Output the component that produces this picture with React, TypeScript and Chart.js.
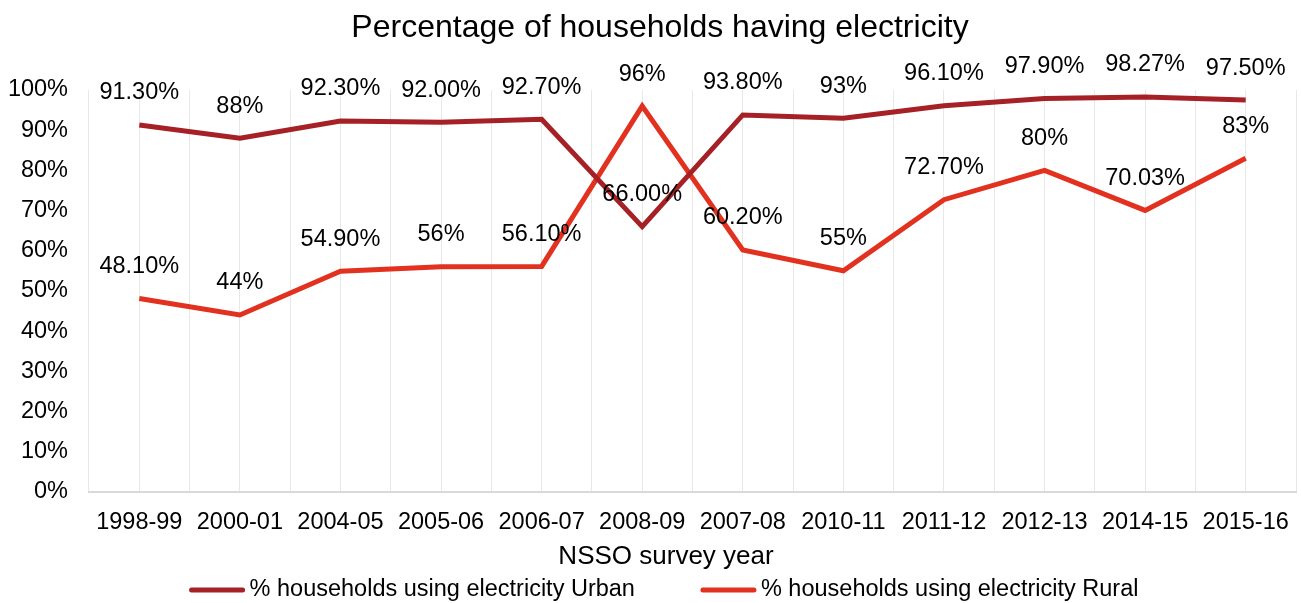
import React, { useEffect, useRef } from "react";
import { Chart, registerables } from "chart.js";

Chart.register(...registerables);

const categories = ["1998-99", "2000-01", "2004-05", "2005-06", "2006-07", "2008-09", "2007-08", "2010-11", "2011-12", "2012-13", "2014-15", "2015-16"];
const urbanValues = [91.3, 88, 92.3, 92.0, 92.7, 66.0, 93.8, 93, 96.1, 97.9, 98.27, 97.5];
const ruralValues = [48.1, 44, 54.9, 56, 56.1, 96, 60.2, 55, 72.7, 80, 70.03, 83];
const urbanLabels = ["91.30%", "88%", "92.30%", "92.00%", "92.70%", "66.00%", "93.80%", "93%", "96.10%", "97.90%", "98.27%", "97.50%"];
const ruralLabels = ["48.10%", "44%", "54.90%", "56%", "56.10%", "96%", "60.20%", "55%", "72.70%", "80%", "70.03%", "83%"];
const seriesNames = ["% households using electricity Urban", "% households using electricity Rural"];
const titleText = "Percentage of households having electricity";
const xTitleText = "NSSO survey year";

const FONT = "'Liberation Sans', Arial, sans-serif";
const FS = 23.5;
const URBAN_COLOR = "#A52126";
const RURAL_COLOR = "#E2311F";

export default function App() {
  const ref = useRef<HTMLCanvasElement | null>(null);

  useEffect(() => {
    if (!ref.current) return;
    const labelSets = [urbanLabels, ruralLabels];

    const customPlugin = {
      id: "custom",
      afterDraw(chart: any) {
        const ctx = chart.ctx;
        ctx.save();
        ctx.fillStyle = "#000";
        ctx.textAlign = "center";
        ctx.textBaseline = "middle";
        // title
        ctx.font = `32px ${FONT}`;
        ctx.fillText(titleText, 660, 28);
        // data labels
        ctx.font = `${FS}px ${FONT}`;
        chart.data.datasets.forEach((ds: any, di: number) => {
          const meta = chart.getDatasetMeta(di);
          meta.data.forEach((pt: any, i: number) => {
            ctx.fillText(labelSets[di][i], pt.x, pt.y - 32);
          });
        });
        // x axis title
        ctx.font = `26px ${FONT}`;
        ctx.fillText(xTitleText, 666, 557);
        // legend
        ctx.font = `${FS}px ${FONT}`;
        ctx.textAlign = "left";
        const markW = 55;
        const gap = 5;
        const itemGap = 66;
        const widths = chart.data.datasets.map((ds: any) => markW + gap + ctx.measureText(ds.label).width);
        const total = widths.reduce((a: number, b: number) => a + b, 0) + itemGap * (widths.length - 1);
        let x = 664 - total / 2;
        const y = 590;
        chart.data.datasets.forEach((ds: any, di: number) => {
          ctx.strokeStyle = ds.borderColor;
          ctx.lineWidth = 5;
          ctx.lineCap = "round";
          ctx.beginPath();
          ctx.moveTo(x + 2, y);
          ctx.lineTo(x + markW - 2, y);
          ctx.stroke();
          ctx.fillStyle = "#000";
          ctx.fillText(ds.label, x + markW + gap, y);
          x += widths[di] + itemGap;
        });
        ctx.restore();
      },
    };

    const chart = new Chart(ref.current, {
      type: "line",
      data: {
        labels: categories,
        datasets: [
          {
            label: seriesNames[0],
            data: urbanValues,
            borderColor: URBAN_COLOR,
            backgroundColor: URBAN_COLOR,
            borderWidth: 5,
            pointRadius: 0,
            tension: 0,
            fill: false,
          },
          {
            label: seriesNames[1],
            data: ruralValues,
            borderColor: RURAL_COLOR,
            backgroundColor: RURAL_COLOR,
            borderWidth: 5,
            pointRadius: 0,
            tension: 0,
            fill: false,
          },
        ],
      },
      options: {
        animation: false,
        responsive: true,
        maintainAspectRatio: false,
        layout: { padding: { left: 0, right: 5, top: 90, bottom: 63 } },
        plugins: {
          legend: { display: false },
          tooltip: { enabled: false },
          title: { display: false },
        },
        scales: {
          x: {
            type: "category",
            offset: true,
            grid: {
              display: true,
              offset: true,
              color: "#e8e8e8",
              lineWidth: 1,
              drawTicks: true,
              tickLength: 14,
              tickColor: "rgba(0,0,0,0)",
            },
            border: { display: true, color: "#d9d9d9", width: 2 },
            ticks: { color: "#000", font: { family: FONT, size: FS }, padding: 3, maxRotation: 0, autoSkip: false },
          },
          x2: {
            type: "category",
            position: "bottom",
            labels: categories,
            offset: true,
            grid: { display: true, offset: false, color: "#e8e8e8", lineWidth: 1, drawTicks: false },
            border: { display: false },
            ticks: { display: false },
          },
          y: {
            min: 0,
            max: 100,
            grid: { display: false, drawTicks: false },
            border: { display: false },
            ticks: {
              stepSize: 10,
              color: "#000",
              font: { family: FONT, size: FS },
              padding: 21,
              callback: (v: any) => v + "%",
            },
            afterFit: (scale: any) => {
              scale.width = 89;
            },
          },
        },
      },
      plugins: [customPlugin],
    });
    return () => chart.destroy();
  }, []);

  return (
    <div style={{ position: "fixed", left: 0, top: 0, width: 1301, height: 603, background: "#fff" }}>
      <canvas ref={ref} />
    </div>
  );
}
